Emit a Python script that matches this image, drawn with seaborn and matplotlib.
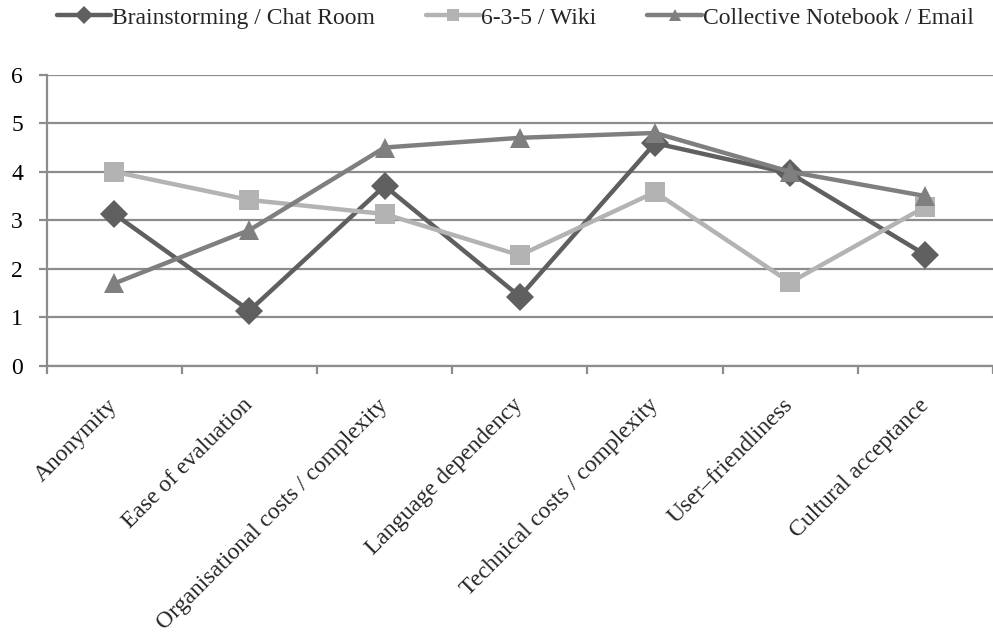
import matplotlib
matplotlib.use("Agg")
import matplotlib.pyplot as plt
import seaborn as sns
import pandas as pd
import numpy as np

categories = [
    "Anonymity",
    "Ease of evaluation",
    "Organisational costs / complexity",
    "Language dependency",
    "Technical costs / complexity",
    "User\u2013friendliness",
    "Cultural acceptance",
]
series_names = ["Brainstorming / Chat Room", "6-3-5 / Wiki", "Collective Notebook / Email"]
brainstorming = [3.13, 1.14, 3.71, 1.43, 4.59, 3.97, 2.29]
wiki = [4.0, 3.42, 3.13, 2.28, 3.58, 1.72, 3.28]
notebook = [1.7, 2.8, 4.5, 4.7, 4.8, 4.0, 3.5]

colors = {series_names[0]: "#5f5f5f", series_names[1]: "#b3b3b3", series_names[2]: "#7f7f7f"}
markers = {series_names[0]: "D", series_names[1]: "s", series_names[2]: "^"}

rows = []
for name, vals in zip(series_names, [brainstorming, wiki, notebook]):
    for i, v in enumerate(vals):
        rows.append({"pos": i, "value": v, "series": name})
df = pd.DataFrame(rows)

sns.set_theme(style="white")
plt.rcParams["font.family"] = ["Liberation Serif", "DejaVu Serif"]

fig = plt.figure(figsize=(9.93, 6.34), dpi=100)
ax = fig.add_axes([0.047, 0.4227, 0.953, 0.4595])

sns.lineplot(data=df, x="pos", y="value", hue="series", style="series",
             hue_order=series_names, style_order=series_names,
             palette=colors, markers=markers, dashes=False,
             linewidth=3.2, markersize=14, markeredgewidth=0,
             ax=ax, legend=False, zorder=3)

ax.set_ylim(0, 6)
ax.set_xlim(-0.5, 6.41)
ax.set_yticks(range(0, 7))
ax.yaxis.grid(True, color="#8c8c8c", linewidth=1.6)
ax.set_axisbelow(True)
for s in ["top", "right"]:
    ax.spines[s].set_visible(False)
for s in ["left", "bottom"]:
    ax.spines[s].set_color("#8c8c8c")
    ax.spines[s].set_linewidth(1.6)

ax.tick_params(axis="y", length=6, width=1.6, color="#8c8c8c", labelsize=17, pad=11,
               left=True, labelcolor="black")
ax.set_xticks(np.arange(-0.5, 7, 1.0))
ax.set_xticklabels([])
ax.tick_params(axis="x", which="major", length=6, width=1.6, color="#8c8c8c", bottom=True)
ax.set_xticks(np.arange(len(categories)), minor=True)
ax.set_xticklabels(categories, minor=True, rotation=45, ha="right", va="center",
                   rotation_mode="anchor", fontsize=17)
ax.tick_params(axis="x", which="minor", length=0, pad=26)
ax.set_xlabel("")
ax.set_ylabel("")

handles = [plt.Line2D([], [], color=colors[n], marker=markers[n], linewidth=3.2,
                      markersize=9, markeredgewidth=0) for n in series_names]
fig.legend(handles, series_names, loc="center", bbox_to_anchor=(0.519, 0.972), ncol=3,
           frameon=False, fontsize=17, handlelength=2.3, columnspacing=2.15,
           handletextpad=0.05)

fig.savefig("out.png", dpi=100)
